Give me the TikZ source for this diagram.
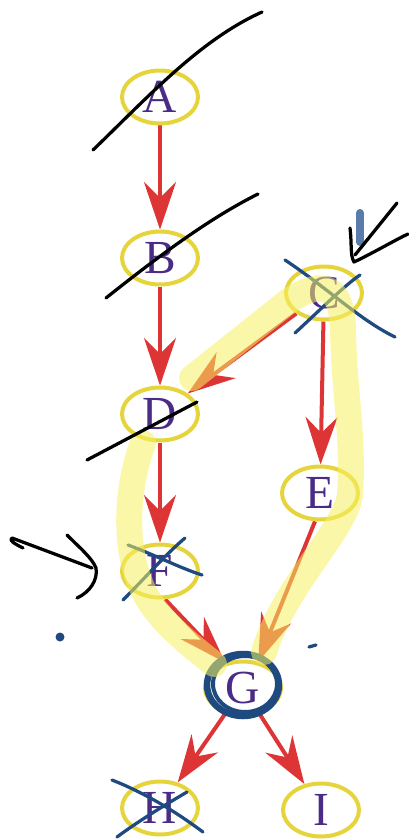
\documentclass[tikz,border=0pt]{standalone}
\usepackage{fontspec}
\setmainfont{Liberation Serif}
\usetikzlibrary{shapes.geometric,arrows.meta}
\pgfdeclarelayer{arrowlayer}
\pgfdeclarelayer{hllayer}
\pgfdeclarelayer{inklayer}
\pgfsetlayers{arrowlayer,main,hllayer,inklayer}
\definecolor{ringy}{HTML}{E6D43C}
\definecolor{lett}{HTML}{4A2C86}
\definecolor{arrred}{HTML}{DD3535}
\definecolor{hly}{HTML}{F7F060}
\definecolor{penblue}{HTML}{1E4A80}
\definecolor{barblue}{HTML}{5B7BAA}
\tikzset{
  vert/.style={ellipse, draw=ringy, line width=0.08cm, fill=white, text=lett,
    minimum width=1.52cm, minimum height=1.06cm, inner sep=0pt,
    font=\fontsize{27}{30}\selectfont},
  arr/.style={draw=arrred, line width=0.08cm,
    -{Stealth[length=0.95cm,width=0.64cm,inset=0.32cm]}},
  hl/.style={draw=hly, line width=0.52cm, opacity=0.55, line cap=round, line join=round},
  ink/.style={draw=black, line width=0.065cm, line cap=round, line join=round},
  bink/.style={draw=penblue, line width=0.065cm, line cap=round, line join=round}
}
\begin{document}
\begin{tikzpicture}[x=0.02cm,y=-0.02cm]
\useasboundingbox (0,0) rectangle (409,839);
% nodes (positions)
\node[vert] (A) at (160,97) {A};
\node[vert] (B) at (160,258) {B};
\node[vert] (C) at (324,293) {C};
\node[vert] (D) at (160,414) {D};
\node[vert] (E) at (320,493) {E};
\node[vert] (F) at (160,571) {F};
\node[vert] (G) at (243,688) {G};
\node[vert] (H) at (160,808) {H};
\node[vert] (I) at (321,810) {I};
% arrows
\begin{pgfonlayer}{arrowlayer}
\draw[arr] (A) -- (B);
\draw[arr] (B) -- (D);
\draw[arr] (C) -- (D);
\draw[arr] (C) -- (E);
\draw[arr] (D) -- (F);
\draw[arr] (F.-80) -- (G.125);
\draw[arr] (E.-100) -- (G.60);
\draw[arr] (G) -- (H);
\draw[arr] (G) -- (I);
\end{pgfonlayer}
% highlight band
\begin{pgfonlayer}{hllayer}
\draw[hl] (192,378) -- (290,300) .. controls (318,282) and (342,280) .. (343,330)
  .. controls (344,390) and (354,440) .. (350,495)
  .. controls (345,530) and (285,585) .. (264,652);
\draw[hl] (143,443) .. controls (125,490) and (122,560) .. (150,602)
  .. controls (165,625) and (190,645) .. (214,664);
\end{pgfonlayer}
% black strokes
\begin{pgfonlayer}{inklayer}
\draw[ink] (93,150) .. controls (150,95) and (200,40) .. (262,12);
\draw[ink] (106,298) .. controls (160,255) and (210,218) .. (258,194);
\draw[ink] (87,460) -- (197,402);
\draw[ink] (397,203) -- (355,255);
\draw[ink] (350,228) .. controls (352,245) and (350,255) .. (354,262) .. controls (375,252) and (395,240) .. (408,234);
\draw[ink] (23,548) .. controls (15,544) and (8,540) .. (12,538) -- (92,568);
\draw[ink] (67,535) .. controls (80,548) and (92,558) .. (96,568) .. controls (98,580) and (90,592) .. (77,598);
\end{pgfonlayer}
% blue marks
\draw[draw=barblue, line width=0.16cm, line cap=round] (360,213) -- (360,242);
\draw[bink] (285,260) .. controls (330,290) and (360,320) .. (395,337);
\draw[bink] (295,333) .. controls (320,310) and (345,285) .. (360,275);
\draw[bink] (128,545) .. controls (155,555) and (180,568) .. (202,575);
\draw[bink] (123,600) .. controls (145,578) and (165,555) .. (185,538);
\fill[penblue] (60,637) circle[radius=4.5];
\draw[bink] (309,647) -- (316,645);
\draw[penblue, line width=0.13cm] (243,685) ellipse[x radius=36, y radius=31];
\draw[penblue, line width=0.08cm] (245,684) ellipse[x radius=32, y radius=28];
\draw[bink] (112,780) .. controls (150,795) and (180,815) .. (203,832);
\draw[bink] (117,837) .. controls (140,820) and (165,805) .. (187,792);
\end{tikzpicture}
\end{document}
